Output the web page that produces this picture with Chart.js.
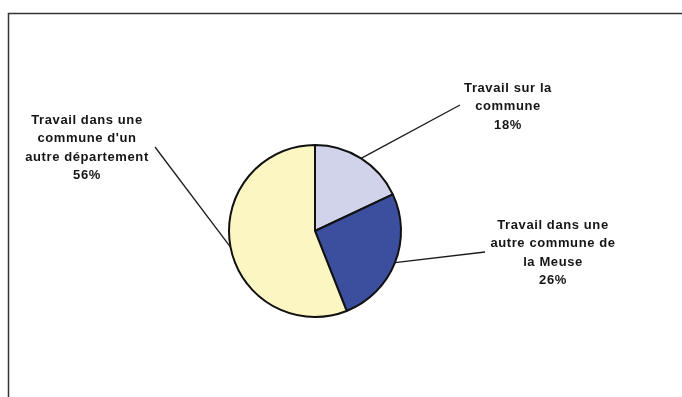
<!DOCTYPE html>
<html>
<head>
<meta charset="utf-8">
<script src="https://cdn.jsdelivr.net/npm/chart.js@4"></script>
<style>
  html, body { margin: 0; padding: 0; background: #fff; }
  #wrap { width: 682px; height: 397px; }
</style>
</head>
<body>
<div id="wrap"><canvas id="camembert"></canvas></div>
<script>
// lieu de travail des actifs
const categories = [
  ['Travail sur la', 'commune'],
  ['Travail dans une', 'autre commune de', 'la Meuse'],
  ['Travail dans une', 'commune d\'un', 'autre département']
]
const valeurs = [18, 26, 56]
const couleurs = ['#d0d3ea', '#3b4f9e', '#fcf6c3']

// position des etiquettes (centre du texte, y de la 1ere ligne) et bout du trait
const etiquettes = [
  {x: 508, y: 88, bx: 460, by: 105},
  {x: 553, y: 225, bx: 485, by: 252},
  {x: 87, y: 120, bx: 155, by: 147}
]

const cadre = {
  id: 'cadre',
  beforeDraw(chart) {
    const ctx = chart.ctx
    ctx.save()
    ctx.strokeStyle = '#333'
    ctx.lineWidth = 1.5
    ctx.beginPath()
    ctx.moveTo(8.5, 397)
    ctx.lineTo(8.5, 13.5)
    ctx.lineTo(682, 13.5)
    ctx.stroke()
    ctx.restore()
  }
}

const etiquettesPlugin = {
  id: 'etiquettes',
  afterDraw(chart) {
    const ctx = chart.ctx
    const arcs = chart.getDatasetMeta(0).data
    ctx.save()
    arcs.forEach((arc, i) => {
      const e = etiquettes[i]
      const mid = (arc.startAngle + arc.endAngle) / 2
      const px = arc.x + Math.cos(mid) * arc.outerRadius
      const py = arc.y + Math.sin(mid) * arc.outerRadius
      // trait
      ctx.strokeStyle = '#1a1a1a'
      ctx.lineWidth = 1.3
      ctx.beginPath()
      ctx.moveTo(px, py)
      ctx.lineTo(e.bx, e.by)
      ctx.stroke()
      // texte
      ctx.fillStyle = '#151515'
      ctx.font = 'bold 13px "Liberation Sans", Arial, sans-serif'
      ctx.letterSpacing = '0.6px'
      ctx.textAlign = 'center'
      ctx.textBaseline = 'middle'
      const lignes = categories[i].concat([valeurs[i] + '%'])
      lignes.forEach((l, k) => ctx.fillText(l, e.x, e.y + k * 18.5))
    })
    ctx.restore()
  }
}

new Chart(document.getElementById('camembert'), {
  type: 'pie',
  data: {
    labels: categories.map(c => c.join(' ')),
    datasets: [{
      data: valeurs,
      backgroundColor: couleurs,
      borderColor: '#111',
      borderWidth: 2
    }]
  },
  options: {
    responsive: true,
    maintainAspectRatio: false,
    animation: false,
    layout: {
      padding: {top: 144, bottom: 79, left: 0, right: 52}
    },
    plugins: {
      legend: {display: false},
      tooltip: {enabled: false}
    }
  },
  plugins: [cadre, etiquettesPlugin]
})
</script>
</body>
</html>
